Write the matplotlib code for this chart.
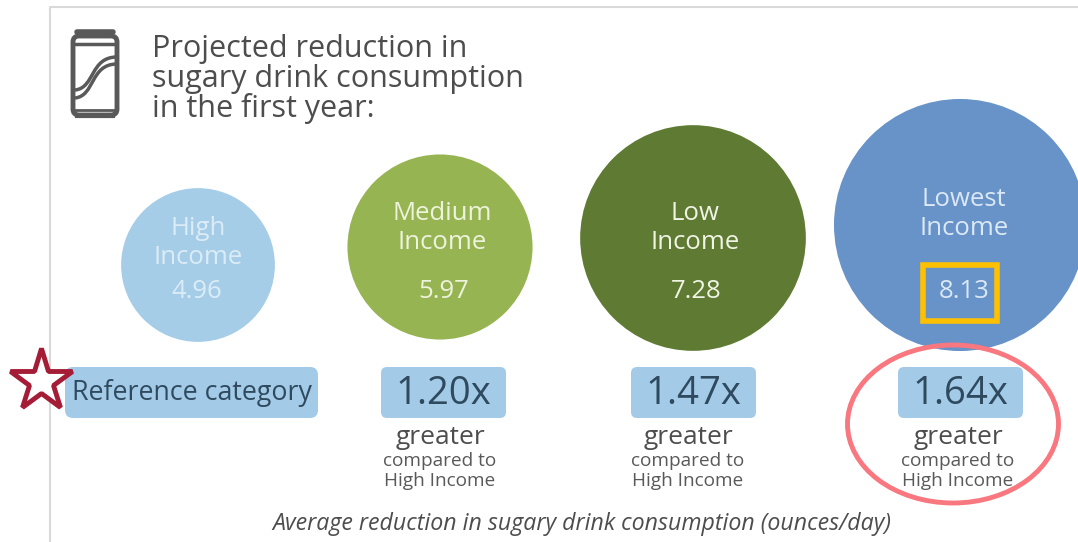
import matplotlib.pyplot as plt
from matplotlib.patches import Circle, Ellipse, FancyBboxPatch, PathPatch, Rectangle
from matplotlib.path import Path

plt.rcParams['font.family'] = ['Open Sans', 'DejaVu Sans']

groups = ["High\nIncome", "Medium\nIncome", "Low\nIncome", "Lowest\nIncome"]
reduction = [4.96, 5.97, 7.28, 8.13]
ratios = ["1.20x", "1.47x", "1.64x"]
colors = ["#a5cde8", "#97b453", "#5e7a33", "#6793c9"]
label_colors = ["#dcecf6", "#eef3dc", "#f0f4e4", "#dce8f5"]

fig = plt.figure(figsize=(10.78, 5.42), dpi=100)
ax = fig.add_axes([0, 0, 1, 1])
ax.set_xlim(0, 1078)
ax.set_ylim(542, 0)
ax.axis('off')

# frame on the top and left only
ax.plot([49.5, 49.5, 1078], [542, 7, 7], color="#d9d9d9", lw=1.5)

# can icon
grey = "#595959"
ax.add_patch(FancyBboxPatch((73, 36), 44, 79, boxstyle="round,pad=0,rounding_size=6",
                            fc="white", ec=grey, lw=3.5))
ax.plot([77, 113], [32, 32], color=grey, lw=4, solid_capstyle='round')
ax.plot([75, 115], [44, 44], color=grey, lw=2.5)
ax.plot([77, 113], [116, 116], color=grey, lw=3)
ax.plot([75, 115], [110, 110], color=grey, lw=2)
for y0, y1 in [(90, 57), (98, 64)]:
    wave = Path([(75, y0), (95, y0 - 2), (90, y1), (117, y1)],
                [Path.MOVETO, Path.CURVE4, Path.CURVE4, Path.CURVE4])
    ax.add_patch(PathPatch(wave, fc='none', ec=grey, lw=2.5))

title_lines = ["Projected reduction in", "sugary drink consumption", "in the first year:"]
title_y = [49, 79, 109]
for line, y in zip(title_lines, title_y):
    ax.text(152, y, line, fontsize=22, color="#4d4d4d", va='center')

# circle radius follows the value
px_per_unit = 15.5
cx = [198, 440, 693, 960]
cy = [265, 247, 238, 225]
name_x = [198, 442, 695, 964]
name_y = [243, 228, 228, 214]
value_x = [197, 444, 696, 964]
for i in range(4):
    ax.add_patch(Circle((cx[i], cy[i]), reduction[i] * px_per_unit, fc=colors[i], ec='none'))
    ax.text(name_x[i], name_y[i], groups[i], fontsize=18.5, color=label_colors[i],
            ha='center', va='center', linespacing=1.2)
    ax.text(value_x[i], 291, "%.2f" % reduction[i], fontsize=18.5, color=label_colors[i],
            ha='center', va='center')

# highlight around the largest value
ax.add_patch(Rectangle((922.5, 264.5), 74, 56, fc='none', ec="#ffc000", lw=4))

pill = "#a3cbe8"
ink = "#2f4a5f"
ax.add_patch(FancyBboxPatch((65, 367), 253, 51, boxstyle="round,pad=0,rounding_size=8",
                            fc=pill, ec='none'))
ax.text(192, 393, "Reference category", fontsize=19.3, color=ink, ha='center', va='center')

box_x = [381, 631, 898]
text_x = [440, 688, 958]
for i in range(3):
    ax.add_patch(FancyBboxPatch((box_x[i], 367), 125, 51, boxstyle="round,pad=0,rounding_size=6",
                                fc=pill, ec='none'))
    ax.text(box_x[i] + 62.5, 394, ratios[i], fontsize=27.5, color=ink, ha='center', va='center')
    ax.text(text_x[i], 438, "greater", fontsize=19, color="#4d4d4d", ha='center', va='center')
    ax.text(text_x[i], 461, "compared to", fontsize=13.7, color="#595959", ha='center', va='center')
    ax.text(text_x[i], 481, "High Income", fontsize=13.7, color="#595959", ha='center', va='center')

ax.add_patch(Ellipse((953, 424), 211, 158, fc='none', ec="#f9777f", lw=3.5))

# star marking the reference group
ax.plot([41], [381], marker='*', ms=47, mfc='white', mec="#a51c36", mew=3.5, clip_on=False)

ax.text(582, 524, "Average reduction in sugary drink consumption (ounces/day)", fontsize=16.7,
        style='italic', color="#4d4d4d", ha='center', va='center')

plt.savefig("out.png", dpi=100)
